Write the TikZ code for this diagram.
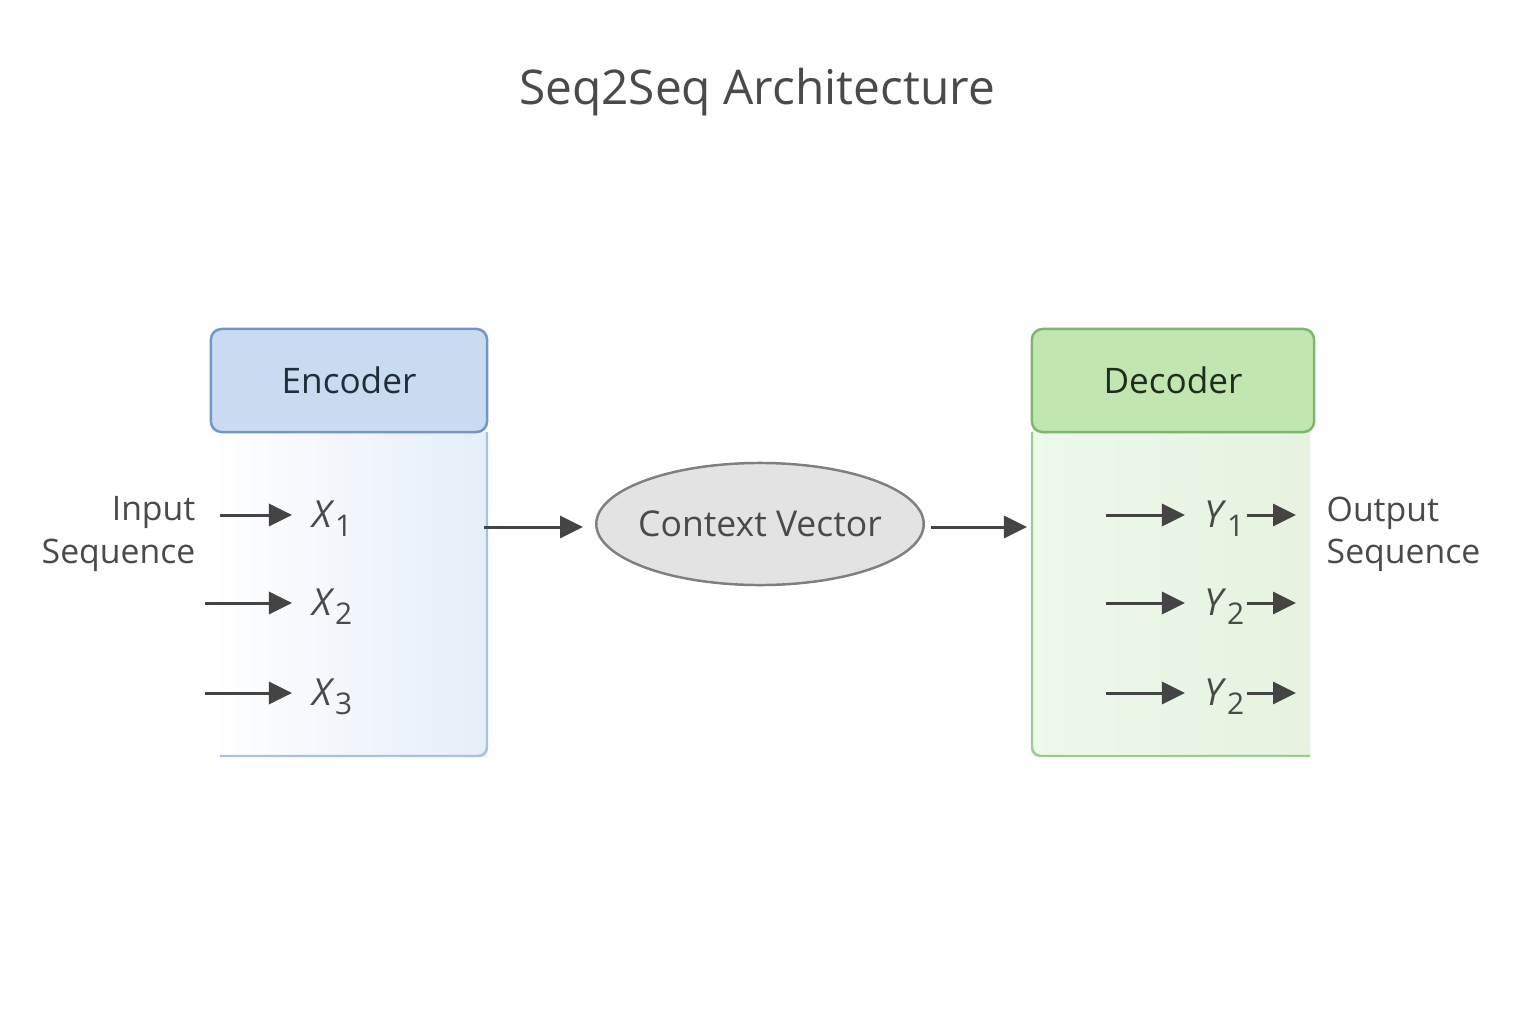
\documentclass[tikz,border=0pt]{standalone}
\usepackage{fontspec}
\setmainfont{Open Sans}
\usepackage{tikz}
\usetikzlibrary{arrows.meta,shapes.geometric}

\definecolor{encfill}{HTML}{C8DBF1}
\definecolor{encline}{HTML}{7196C8}
\definecolor{encbody}{HTML}{E6EEF9}
\definecolor{encedge}{HTML}{A9C1E0}
\definecolor{decfill}{HTML}{C2E6B2}
\definecolor{decline}{HTML}{7CB66F}
\definecolor{decbodyl}{HTML}{EEF8EB}
\definecolor{decbodyr}{HTML}{E5F3DF}
\definecolor{decedge}{HTML}{9BCB90}
\definecolor{ctxfill}{HTML}{E3E3E3}
\definecolor{ctxline}{HTML}{7F7F7F}
\definecolor{arrowgray}{HTML}{444444}
\definecolor{txtgray}{HTML}{4A4A4A}

\newcommand{\idx}[1]{\raisebox{-0.45ex}{\fontsize{8.5}{8.5}\selectfont #1}}

\tikzset{
  head/.style={draw, rounded corners=3pt, line width=0.7pt, minimum width=2.76cm,
    minimum height=1.03cm, font=\fontsize{10}{12}\selectfont},
  sym/.style={inner sep=0pt, text=txtgray, font=\fontsize{10.6}{12}\selectfont},
  seq/.style={draw=arrowgray, line width=0.85pt, -{Triangle[length=0.23cm,width=0.22cm]}},
  side/.style={inner sep=0pt, text=txtgray, font=\fontsize{9.6}{12}\selectfont},
}

\begin{document}
\begin{tikzpicture}[x=0.01cm, y=-0.01cm]
  \useasboundingbox[fill=white] (0,0) rectangle (1536,1024);

  \node[text=txtgray, font=\fontsize{13.6}{16}\selectfont] (title) at (757,92) {Seq2Seq Architecture};

  \shade[left color=white, right color=encbody] (211,432) rectangle (487,756);
  \draw[encedge, line width=0.7pt, rounded corners=2.5pt] (220,756) -| (487,432);
  \node[head, fill=encfill, draw=encline, text=encline!30!black] (enc) at (349,380.5) {Encoder};

  \shade[left color=decbodyl, right color=decbodyr] (1032,432) rectangle (1310,756);
  \draw[decedge, line width=0.7pt, rounded corners=2.5pt] (1310,756) -| (1032,432);
  \node[head, fill=decfill, draw=decline, minimum width=2.82cm, text=decline!25!black] (dec) at (1173,380.5) {Decoder};

  \node[ellipse, draw=ctxline, fill=ctxfill, line width=0.7pt, inner xsep=-0.06cm, minimum height=1.22cm,
    text=txtgray, font=\fontsize{10.1}{12}\selectfont] (ctx) at (760,524) {Context Vector};

  \node[side, anchor=east, align=right] (input) at (196,534) {Input\\Sequence};
  \node[side, anchor=west, align=left] (output) at (1326,534) {Output\\Sequence};

  \node[sym, anchor=west] (x1) at (312,519) {\textit{X}\idx{1}};
  \node[sym, anchor=west] (x2) at (312,607) {\textit{X}\idx{2}};
  \node[sym, anchor=west] (x3) at (312,697) {\textit{X}\idx{3}};
  \node[sym, anchor=west] (y1) at (1204,519) {\textit{Y}\idx{1}};
  \node[sym, anchor=west] (y2) at (1204,607) {\textit{Y}\idx{2}};
  \node[sym, anchor=west] (y3) at (1204,697) {\textit{Y}\idx{2}};

  \coordinate (in1) at (220,515);
  \coordinate (in2) at (205,603);
  \coordinate (in3) at (205,693);
  \coordinate (dn1) at (1106,515);
  \coordinate (dn2) at (1106,603);
  \coordinate (dn3) at (1106,693);
  \coordinate (out1) at (1296,515);
  \coordinate (out2) at (1296,603);
  \coordinate (out3) at (1296,693);
  \coordinate (encout) at (484,527);
  \coordinate (decin) at (1027,527);

  \foreach \i in {1,2,3} {
    \draw[seq, shorten >=0.2cm] (in\i) -- (in\i -| x\i.west);
    \draw[seq, shorten >=0.19cm] (dn\i) -- (dn\i -| y\i.west);
    \draw[seq, shorten <=0.02cm] (out\i -| y\i.east) -- (out\i);
  }
  \draw[seq, shorten >=0.12cm] (encout) -- (ctx.west |- encout);
  \draw[seq, shorten <=0.06cm] (ctx.east |- decin) -- (decin);
\end{tikzpicture}
\end{document}
